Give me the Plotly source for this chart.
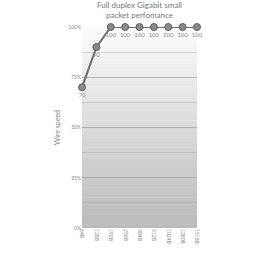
import plotly.graph_objects as go

packet_sizes = ["64B", "128B", "192B", "256B", "384B", "512B", "1024B", "1280B", "1518B"]
wire_speed = [70, 90, 100, 100, 100, 100, 100, 100, 100]
point_labels = ["70", "90", "100", "100", "100", "100", "100", "100", "100"]
y_ticks = [0, 25, 50, 75, 100]
y_tick_text = ["0%", "25%", "50%", "75%", "100%"]
title_text = "Full duplex Gigabit small<br>packet perfomance"

fig = go.Figure()

# vertical gradient background built from strips
n = 60
top = (252, 252, 252)
bot = (186, 186, 186)
shapes = []
for i in range(n):
    t = (i + 0.5) / n
    c = tuple(int(round(top[k] + (bot[k] - top[k]) * t)) for k in range(3))
    shapes.append(dict(type="rect", xref="paper", yref="paper",
                       x0=0, x1=1, y0=1 - (i + 1) / n, y1=1 - i / n + 0.002,
                       fillcolor="rgb(%d,%d,%d)" % c, line=dict(width=0), layer="below"))

fig.add_trace(go.Scatter(
    x=list(range(len(packet_sizes))), y=wire_speed, mode="lines+markers+text",
    text=point_labels, textposition="bottom center",
    textfont=dict(size=6, color="#8a8a8a", family="Lato"),
    line=dict(color="#6e6e6e", width=2),
    marker=dict(size=7, color="#8a8a8a", line=dict(color="#5e5e5e", width=1)),
    cliponaxis=False, hoverinfo="skip"))

fig.add_annotation(text=title_text, xref="paper", yref="paper", x=0.5, y=1.145,
                   xanchor="center", yanchor="top", showarrow=False,
                   font=dict(size=8, color="#777777", family="Lato"))

fig.update_layout(
    width=256, height=256,
    margin=dict(l=82, r=59, t=27, b=16),
    paper_bgcolor="white", plot_bgcolor="rgba(0,0,0,0)",
    shapes=shapes, showlegend=False,
    font=dict(family="Lato", color="#888888"),
    xaxis=dict(range=[0, len(packet_sizes) - 1], tickvals=list(range(len(packet_sizes))),
               ticktext=packet_sizes, tickangle=90, showgrid=False, zeroline=False,
               tickfont=dict(size=5, color="#888888"), ticks="", showline=False),
    yaxis=dict(range=[0, 100], tickvals=y_ticks, ticktext=y_tick_text,
               tickfont=dict(size=5, color="#888888"), showgrid=True,
               gridcolor="rgba(160,160,160,0.5)", gridwidth=1, zeroline=False,
               minor=dict(dtick=12.5, showgrid=True, gridcolor="rgba(160,160,160,0.4)", gridwidth=1),
               title=dict(text="Wire speed", font=dict(size=7, color="#888888"), standoff=6),
               ticks="", showline=False),
)

fig.write_html("out.html")
